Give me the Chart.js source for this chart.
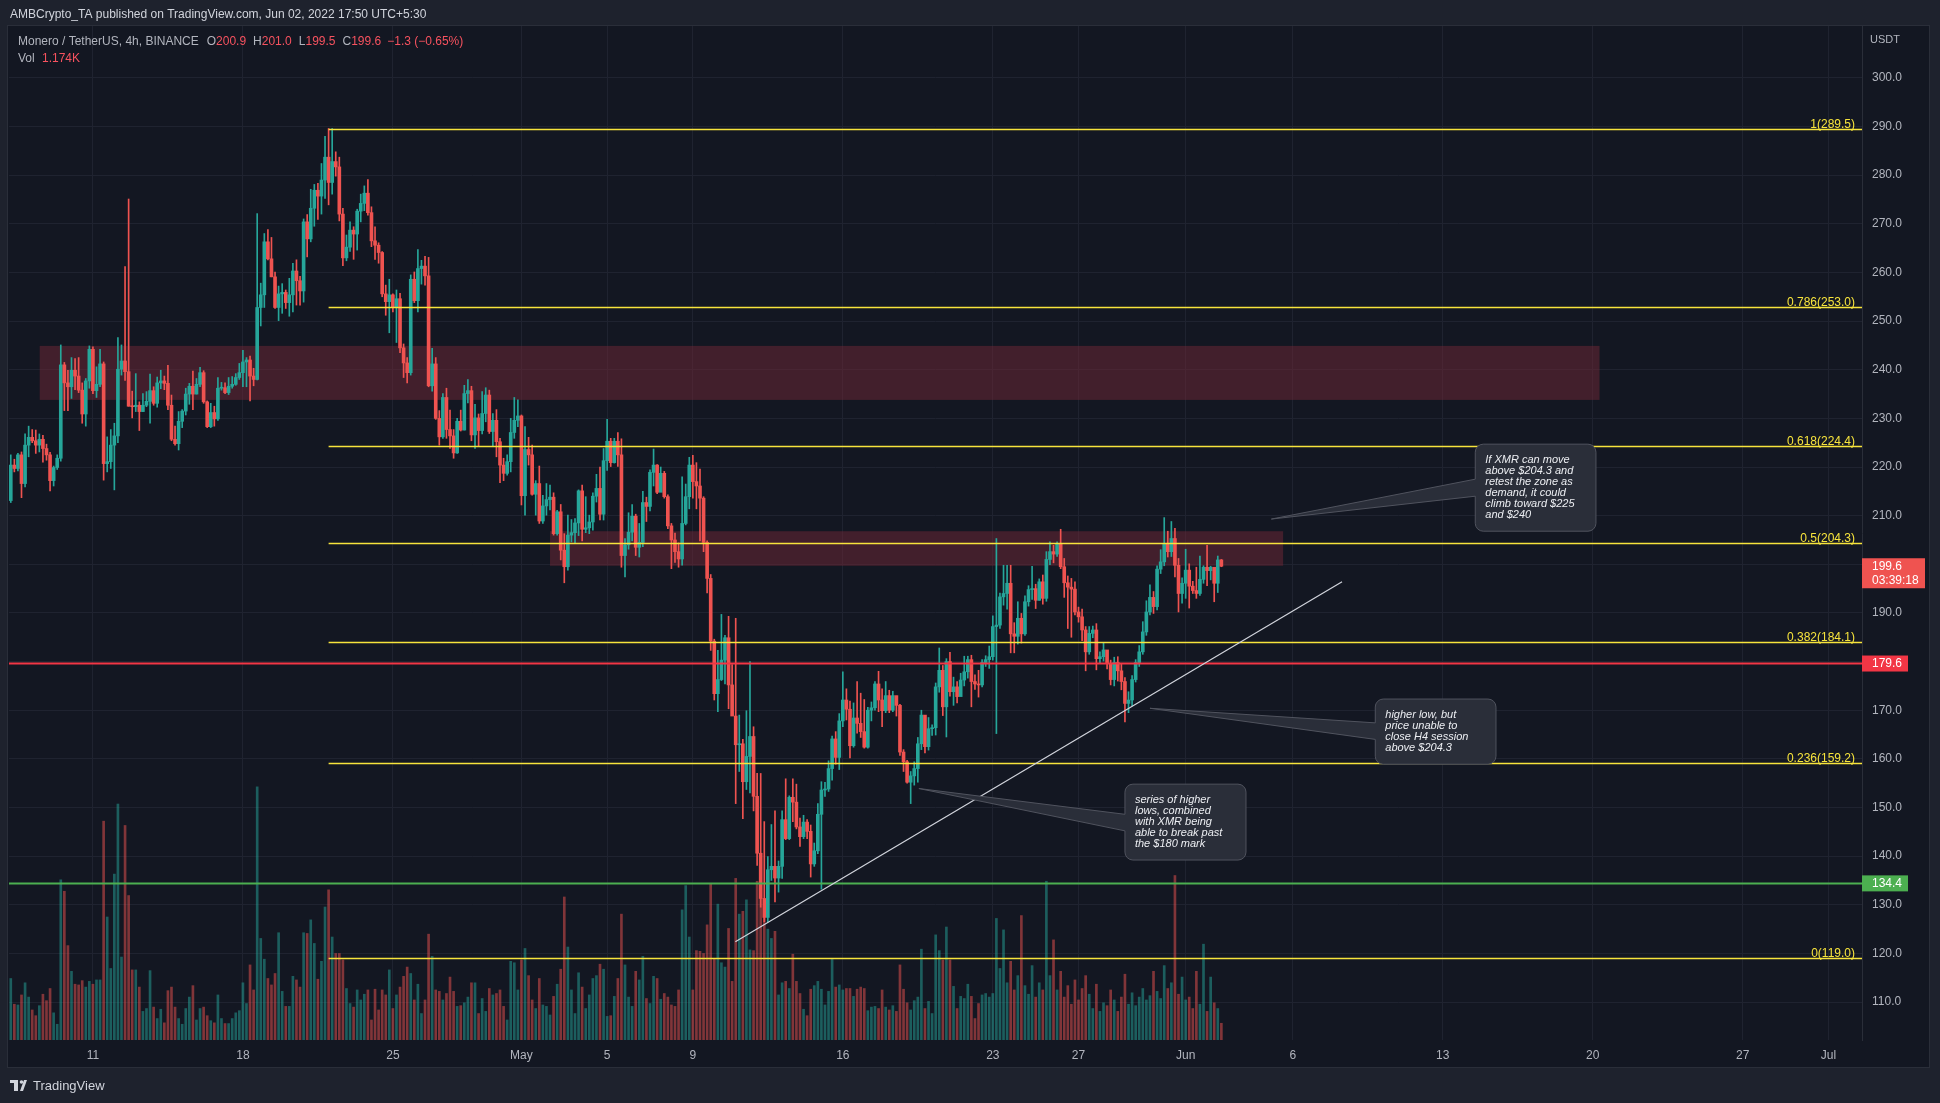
<!DOCTYPE html>
<html>
<head>
<meta charset="utf-8">
<script src="https://cdn.jsdelivr.net/npm/chart.js@4.4.1/dist/chart.umd.min.js"></script>
<style>
  html, body { margin: 0; padding: 0; background: #1e222d; overflow: hidden; }
  #wrap { width: 1940px; height: 1103px; position: relative; }
</style>
</head>
<body>
<div id="wrap"><canvas id="chart"></canvas></div>
<script>
// XMR/USDT 4h candles, Apr 7 - Jun 2 2022
const firstOpen = 213.1;
const closes = [
  220.4,219.7,222.5,216.6,224.5,226.1,225.4,224.5,225.7,223.8,
  222.5,217.2,219.9,221.8,241.0,237.3,236.5,239.9,238.7,235.8,
  230.9,237.7,244.2,235.7,237.0,241.2,220.7,221.1,224.5,226.4,
  240.1,241.8,239.6,232.5,232.4,232.7,231.4,232.7,233.5,235.7,
  233.1,237.3,237.7,237.2,232.7,225.7,224.8,229.4,231.5,235.0,
  236.6,235.0,237.0,239.4,233.4,228.3,231.2,229.9,236.2,236.3,
  235.3,236.6,237.0,238.4,239.4,241.6,242.0,238.7,238.0,252.8,
  255.4,266.3,262.8,259.1,252.8,255.6,255.9,253.8,255.4,260.3,
  258.3,256.2,270.4,266.9,273.2,276.9,275.7,279.0,283.7,278.5,
  282.8,281.7,272.0,263.0,265.2,268.7,267.9,272.6,274.2,276.3,
  272.3,266.5,265.6,264.1,255.6,254.0,255.4,252.8,254.6,244.5,
  241.4,239.4,258.6,254.2,260.8,261.3,259.3,236.7,241.2,230.0,
  226.2,234.3,227.7,226.4,222.9,229.4,227.6,235.1,235.7,226.6,
  230.1,227.5,231.0,234.8,227.3,229.6,225.2,220.4,218.7,221.1,
  227.1,229.6,230.5,214.1,223.6,222.5,214.4,216.6,208.9,212.0,
  213.3,213.8,206.3,210.8,202.9,199.5,206.0,206.5,208.5,215.1,
  207.2,207.5,208.7,214.0,215.6,210.3,221.3,225.3,220.9,225.3,
  222.5,201.8,204.0,206.6,209.9,203.5,204.5,212.7,211.9,218.9,
  220.4,214.8,218.7,213.9,207.9,205.0,202.6,201.1,208.4,213.9,
  220.4,217.0,216.1,213.6,204.5,197.1,184.2,173.4,176.3,180.3,
  184.9,175.2,168.8,162.9,163.1,155.3,160.5,164.6,152.3,140.6,
  131.3,127.4,137.2,137.9,135.5,137.9,147.5,143.6,152.1,151.1,
  146.0,144.0,147.0,145.1,138.4,141.1,148.6,153.6,153.8,158.0,
  164.1,160.3,167.8,172.1,170.2,162.7,168.4,167.3,165.6,162.4,
  170.0,170.5,175.4,172.1,169.9,173.0,170.0,173.0,171.0,161.4,
  159.4,155.2,156.5,158.0,163.1,169.0,162.5,166.2,166.4,174.8,
  178.2,170.7,180.0,173.8,174.8,172.8,176.2,177.9,180.4,175.9,
  175.4,175.2,179.8,180.4,181.0,187.2,187.5,193.3,194.0,196.1,
  185.7,185.2,188.9,185.7,192.3,194.8,195.0,192.6,196.4,193.0,
  201.0,202.6,202.1,204.3,199.5,196.2,195.3,194.9,190.2,189.2,
  186.5,182.0,185.8,186.5,180.6,181.0,182.4,179.6,176.3,179.8,
  178.1,175.9,171.4,172.1,176.3,179.8,182.0,186.1,190.2,193.2,
  191.3,199.0,200.5,204.3,202.6,205.3,199.8,194.0,196.1,198.8,
  195.5,194.6,194.0,196.9,199.4,198.7,199.4,196.1,200.9,199.6
];
const highs = [
  222.5,221.6,222.8,223.1,226.8,228.4,227.7,227.6,226.8,226.5,
  224.7,223.0,220.2,222.5,245.1,241.5,239.9,242.5,242.3,242.5,
  237.3,238.2,244.9,244.7,240.6,244.2,241.6,226.2,227.7,229.0,
  246.6,245.1,261.2,275.1,235.6,239.2,233.4,235.1,235.5,239.1,
  236.5,238.5,239.9,238.7,240.9,234.8,228.4,231.4,231.8,236.2,
  237.2,239.7,238.2,240.5,239.8,233.6,233.1,232.5,238.4,237.4,
  237.3,238.4,238.6,239.2,241.3,244.0,242.5,242.8,240.3,272.1,
  257.8,268.0,268.8,267.2,260.1,257.2,257.7,256.4,258.8,261.9,
  262.6,259.2,271.0,271.9,277.1,278.1,278.3,282.4,288.0,289.6,
  289.6,284.8,283.7,273.2,267.7,270.4,269.4,273.0,276.1,277.8,
  279.1,273.5,269.4,266.1,264.3,257.4,258.6,255.6,256.4,255.7,
  245.3,242.5,259.5,260.1,264.7,262.5,263.3,263.1,244.4,242.5,
  231.6,235.1,236.2,231.7,227.7,230.0,231.7,236.8,238.0,236.6,
  232.9,230.9,235.5,236.3,235.8,231.0,231.8,225.9,221.8,222.5,
  230.0,234.3,233.8,230.7,228.3,226.1,224.5,217.2,220.2,214.2,
  216.6,216.3,214.7,211.1,212.3,206.3,210.1,209.2,209.4,215.3,
  216.3,213.9,210.1,214.7,218.5,220.0,223.8,229.8,225.9,225.9,
  227.1,225.8,205.3,210.6,212.3,210.3,208.4,215.0,213.8,219.4,
  223.7,220.5,220.0,219.1,214.3,208.4,206.4,204.4,218.0,216.5,
  222.0,222.4,220.9,219.6,213.9,204.8,197.9,184.6,182.3,189.7,
  185.4,189.3,179.4,188.9,169.0,164.0,169.9,180.0,166.6,157.0,
  157.0,147.1,139.9,146.5,149.3,139.0,149.3,155.9,152.4,155.9,
  154.8,147.8,148.4,147.5,146.4,142.7,150.8,155.3,155.2,159.6,
  164.7,165.6,169.3,177.9,174.4,171.9,171.5,175.9,173.5,172.2,
  170.6,171.7,175.9,178.0,174.4,175.9,174.1,173.9,172.9,171.2,
  161.9,159.7,157.4,159.4,164.4,170.0,167.3,168.5,167.0,175.6,
  182.8,179.2,180.6,181.9,176.8,175.9,177.6,181.1,181.1,181.3,
  177.3,178.2,180.4,181.2,183.2,189.4,205.3,194.1,199.8,199.8,
  199.8,188.0,192.3,189.9,193.5,195.6,199.6,195.9,197.0,197.8,
  202.6,204.6,203.9,204.6,207.2,201.2,197.6,197.1,196.4,191.2,
  190.8,187.2,187.2,187.3,187.8,182.0,183.9,181.5,180.3,180.9,
  181.0,179.6,176.7,173.8,177.1,180.4,183.3,188.2,192.5,195.8,
  194.4,199.7,203.0,209.6,206.8,208.8,207.4,201.2,197.2,203.1,
  200.1,196.5,199.4,201.7,199.7,203.9,199.6,198.1,201.7,201.0
];
const lows = [
  212.7,219.0,219.2,213.7,215.9,222.1,225.0,222.8,223.1,221.0,
  221.4,215.1,216.1,219.5,221.2,231.6,231.6,234.1,235.9,235.3,
  229.0,228.4,236.2,235.1,234.3,236.5,217.3,219.0,219.7,215.3,
  225.0,238.9,237.8,232.5,230.1,231.4,227.5,231.4,232.4,229.0,
  232.7,232.3,236.1,235.9,231.8,225.4,224.5,223.5,228.1,230.7,
  232.9,231.8,235.0,236.5,233.1,228.1,228.1,228.4,229.6,235.8,
  235.1,234.9,236.2,236.8,238.0,236.5,236.5,233.6,236.7,237.9,
  249.0,252.8,262.6,259.1,252.6,250.1,251.6,252.6,251.0,251.9,
  253.3,253.3,253.9,263.2,266.3,269.5,270.9,272.0,275.2,273.9,
  276.1,279.8,270.6,261.4,262.4,264.3,262.7,264.6,270.4,272.7,
  271.8,265.3,262.7,261.9,255.0,251.2,247.6,251.9,245.6,243.5,
  238.4,237.3,238.9,253.8,251.9,257.6,257.4,236.5,235.6,229.8,
  224.5,225.9,225.9,223.8,221.8,222.8,227.4,227.6,233.2,225.4,
  223.8,224.2,226.8,229.3,226.9,224.3,222.1,216.8,217.2,218.3,
  219.0,225.9,228.3,212.2,210.1,220.4,214.2,210.1,208.4,208.4,
  210.1,211.2,206.0,206.0,200.9,196.2,198.8,204.6,204.3,205.9,
  204.8,206.5,206.3,207.0,212.8,209.1,209.1,219.3,220.1,220.8,
  220.1,199.4,197.4,203.1,204.8,201.8,201.5,203.6,208.8,211.0,
  216.1,214.5,215.4,213.6,207.3,199.1,200.4,199.4,199.8,208.1,
  211.4,213.6,211.4,204.8,202.6,194.1,182.3,172.1,169.7,176.1,
  175.4,170.3,169.0,150.8,157.4,147.7,153.7,153.0,149.3,138.1,
  129.5,126.5,126.5,135.0,130.6,132.6,135.4,143.4,143.4,147.1,
  145.6,142.0,143.6,143.6,135.7,137.9,140.5,133.2,152.3,153.3,
  155.6,158.9,157.8,166.6,168.0,160.2,162.4,165.3,164.4,162.2,
  162.2,167.8,170.0,169.7,166.6,169.5,169.5,169.7,168.8,160.7,
  157.4,155.0,150.8,154.6,155.2,161.9,161.2,161.8,164.8,164.9,
  173.7,168.9,164.5,172.9,171.0,171.5,173.9,175.0,176.6,170.7,
  174.3,172.7,174.8,179.0,178.6,180.3,165.2,186.8,191.6,190.8,
  181.8,181.8,183.6,183.8,185.4,191.4,192.8,190.9,192.6,191.8,
  192.4,199.9,200.3,201.6,199.1,193.2,186.8,185.0,189.6,188.1,
  184.3,178.1,181.5,184.9,178.3,179.6,180.1,178.5,175.2,175.0,
  176.0,174.2,167.6,169.5,170.9,175.8,179.0,181.5,185.4,189.6,
  189.9,190.6,198.1,199.7,201.5,201.6,197.4,190.2,192.0,193.0,
  191.0,194.0,193.0,193.6,196.1,195.6,196.8,192.3,194.2,199.5
];
// volume in K
const volumes = [
  4.3,2.5,2.45,3.15,4.0,3.0,2.1,1.7,2.4,3.2,
  2.75,3.6,1.9,1.1,11.2,10.4,6.6,4.8,3.9,3.85,
  4.15,3.7,4.1,3.9,4.2,4.2,15.3,8.6,5.0,11.6,
  16.5,5.8,15.0,10.1,4.9,4.9,3.7,2.0,2.2,4.85,
  2.3,1.5,2.15,1.2,3.45,3.7,2.3,1.5,1.1,2.2,
  3.0,3.8,1.4,2.2,2.3,1.7,1.35,1.2,3.15,1.5,
  1.15,1.15,1.5,1.9,2.05,4.0,2.55,5.25,3.5,17.7,
  7.1,5.65,4.3,3.85,4.65,7.5,3.4,2.35,2.35,4.45,
  4.2,3.7,7.5,7.45,8.4,6.75,4.25,5.5,9.3,10.5,
  7.2,6.05,6.05,5.6,3.6,2.55,2.3,3.5,2.8,3.2,
  3.5,1.4,3.55,2.1,3.5,3.15,4.9,2.2,3.15,3.7,
  4.45,5.1,4.65,2.8,3.9,1.85,2.8,7.4,5.85,3.5,
  3.4,2.8,3.25,4.4,3.4,2.35,2.4,2.6,3.0,4.0,
  4.0,1.85,2.9,2.0,3.6,3.15,3.25,3.5,2.35,1.4,
  5.5,5.4,3.5,5.6,6.4,4.5,2.8,2.2,4.3,2.45,
  2.35,1.75,3.05,3.9,4.95,10.0,6.5,3.5,1.85,4.7,
  3.7,2.2,3.15,4.3,4.5,5.3,4.95,1.65,1.7,3.05,
  4.3,8.8,5.25,3.0,2.35,4.8,4.2,5.85,2.9,2.55,
  4.45,4.3,2.85,3.25,3.0,2.45,2.35,3.5,9.1,10.8,
  7.2,3.5,6.25,6.2,6.05,8.05,10.9,5.65,9.5,5.4,
  5.1,7.8,4.1,11.3,8.8,9.0,9.8,6.3,6.25,11.1,
  10.0,8.6,7.75,7.1,7.6,3.15,4.0,4.1,3.6,6.0,
  4.1,3.25,2.15,1.7,3.55,3.8,4.1,3.55,2.45,3.4,
  5.65,3.7,3.85,3.5,3.6,3.6,3.05,3.55,3.7,3.6,
  2.05,2.3,2.35,2.2,3.5,2.3,2.1,2.4,2.0,5.25,
  3.55,2.6,2.1,2.75,3.0,6.35,2.2,2.7,1.85,7.35,
  6.25,5.6,7.9,5.6,3.75,2.2,3.05,2.9,3.9,3.05,
  1.5,2.55,3.15,3.25,3.0,3.25,8.5,5.0,7.7,4.0,
  5.5,3.5,4.5,8.7,3.8,3.2,5.2,3.0,4.0,3.5,
  11.1,4.5,7.0,3.5,4.8,3.0,3.8,2.5,4.2,2.8,
  3.6,4.5,3.2,2.2,3.9,2.0,2.6,2.4,3.5,2.8,
  2.0,3.0,4.6,2.5,3.3,2.4,3.0,3.6,2.8,3.1,
  4.8,3.4,2.9,5.2,3.6,4.0,11.5,3.2,4.4,2.8,
  3.0,2.2,4.8,2.5,6.7,2.0,4.4,2.6,2.2,1.17
];

// time axis: position in 4h bars from Apr 7 00:00
const timeTicks = [24, 66, 108, 144, 168, 192, 234, 276, 300, 330, 360, 402, 444, 486, 510];
const timeLabels = ['11', '18', '25', 'May', '5', '9', '16', '23', '27', 'Jun', '6', '13', '20', '27', 'Jul'];
const priceTicks = [110, 120, 130, 140, 150, 160, 170, 180, 190, 200, 210, 220, 230, 240, 250, 260, 270, 280, 290, 300];

const fibLevels = ['1', '0.786', '0.618', '0.5', '0.382', '0.236', '0'];
const fibPrices = [289.5, 253.0, 224.4, 204.3, 184.1, 159.2, 119.0];
const fibStart = 90;

// supply / demand boxes: [fromBar, toBar, low, high]
const zones = [[9.1, 445.9, 233.8, 244.9], [152.0, 357.3, 199.7, 206.8]];
// trendline [bar, price] -> [bar, price]
const trendLine = [[203.9, 122.4], [373.8, 196.4]];

const callouts = [
  { tip: [354.0, 209.3], box: [411.1, 444.9, 224.7, 206.8], base: [217.5, 214.0],
    lines: ['If XMR can move', 'above $204.3 and', 'retest the zone as', 'demand, it could', 'climb toward $225', 'and $240'] },
  { tip: [320.0, 170.4], box: [383.1, 416.9, 172.3, 158.9], base: [167.4, 164.0],
    lines: ['higher low, but', 'price unable to', 'close H4 session', 'above $204.3'] },
  { tip: [255.3, 153.9], box: [313.0, 346.9, 154.8, 139.2], base: [148.6, 145.2],
    lines: ['series of higher', 'lows, combined', 'with XMR being', 'able to break past', 'the $180 mark'] }
];

const UP = '#26a69a', DOWN = '#ef5350';
const FONT = '"Liberation Sans", Arial, sans-serif';
const GRID = '#1f2330';
const YELLOW = '#f7e43c';

const opens = closes.map((c, i) => i === 0 ? firstOpen : closes[i - 1]);
const isUp = closes.map((c, i) => c >= opens[i]);

const overlay = {
  id: 'overlay',
  beforeDraw(chart) {
    const {ctx, chartArea: a} = chart;
    ctx.save();
    ctx.fillStyle = '#1e222d';
    ctx.fillRect(0, 0, chart.width, chart.height);
    ctx.fillStyle = '#131722';
    ctx.fillRect(a.left - 1, a.top, a.right - a.left + 68, a.bottom - a.top + 27);
    ctx.strokeStyle = '#2a2e39';
    ctx.lineWidth = 1;
    ctx.strokeRect(a.left - 1.5, a.top - 0.5, a.right - a.left + 69, a.bottom - a.top + 28);
    ctx.restore();
  },
  beforeDatasetsDraw(chart) {
    const {ctx, scales: {x, y}} = chart;
    ctx.save();
    ctx.fillStyle = 'rgba(120, 40, 55, 0.47)';
    zones.forEach(z => {
      const x0 = x.getPixelForValue(z[0]), x1 = x.getPixelForValue(z[1]);
      const y0 = y.getPixelForValue(z[3]), y1 = y.getPixelForValue(z[2]);
      ctx.fillRect(x0, y0, x1 - x0, y1 - y0);
    });
    ctx.restore();
  },
  afterDatasetsDraw(chart) {
    const {ctx, chartArea: a, scales: {x, y}} = chart;
    ctx.save();

    // fib retracement
    ctx.lineWidth = 1.5;
    ctx.strokeStyle = YELLOW;
    ctx.fillStyle = YELLOW;
    ctx.font = '12px ' + FONT;
    ctx.textAlign = 'right';
    ctx.textBaseline = 'alphabetic';
    const fx = x.getPixelForValue(fibStart);
    fibPrices.forEach((p, i) => {
      const py = Math.round(y.getPixelForValue(p)) + 0.5;
      ctx.beginPath();
      ctx.moveTo(fx, py);
      ctx.lineTo(a.right, py);
      ctx.stroke();
      ctx.fillText(fibLevels[i] + '(' + p.toFixed(1) + ')', a.right - 7, py - 2);
    });

    // horizontal levels
    const hline = (p, col) => {
      const py = y.getPixelForValue(p);
      ctx.strokeStyle = col;
      ctx.lineWidth = 2;
      ctx.beginPath();
      ctx.moveTo(a.left, py);
      ctx.lineTo(a.right, py);
      ctx.stroke();
    };
    hline(179.6, '#f23645');
    hline(134.4, '#4caf50');

    // trendline
    ctx.strokeStyle = '#d1d4dc';
    ctx.lineWidth = 1.2;
    ctx.beginPath();
    ctx.moveTo(x.getPixelForValue(trendLine[0][0]), y.getPixelForValue(trendLine[0][1]));
    ctx.lineTo(x.getPixelForValue(trendLine[1][0]), y.getPixelForValue(trendLine[1][1]));
    ctx.stroke();

    // callouts
    callouts.forEach(c => {
      const tx = x.getPixelForValue(c.tip[0]), ty = y.getPixelForValue(c.tip[1]);
      const l = x.getPixelForValue(c.box[0]), r = x.getPixelForValue(c.box[1]);
      const t = y.getPixelForValue(c.box[2]), b = y.getPixelForValue(c.box[3]);
      const b1 = y.getPixelForValue(c.base[0]), b2 = y.getPixelForValue(c.base[1]);
      const rad = 8;
      ctx.beginPath();
      ctx.moveTo(l + rad, t);
      ctx.lineTo(r - rad, t);
      ctx.arcTo(r, t, r, t + rad, rad);
      ctx.lineTo(r, b - rad);
      ctx.arcTo(r, b, r - rad, b, rad);
      ctx.lineTo(l + rad, b);
      ctx.arcTo(l, b, l, b - rad, rad);
      ctx.lineTo(l, b2);
      ctx.lineTo(tx, ty);
      ctx.lineTo(l, b1);
      ctx.lineTo(l, t + rad);
      ctx.arcTo(l, t, l + rad, t, rad);
      ctx.closePath();
      ctx.fillStyle = '#2a2e39';
      ctx.fill();
      ctx.strokeStyle = '#50535e';
      ctx.lineWidth = 1;
      ctx.stroke();
      ctx.fillStyle = '#eceef2';
      ctx.font = 'italic 11px ' + FONT;
      ctx.textAlign = 'left';
      ctx.textBaseline = 'middle';
      c.lines.forEach((s, i) => ctx.fillText(s, l + 10, t + 15.5 + i * 11));
    });

    // price axis labels
    const tag = (p, col, w, lines) => {
      const py = y.getPixelForValue(p);
      ctx.fillStyle = col;
      ctx.fillRect(a.right, py - 8, w, lines === 2 ? 30 : 16);
      ctx.fillStyle = '#ffffff';
      ctx.font = '12px ' + FONT;
      ctx.textAlign = 'left';
      ctx.textBaseline = 'middle';
      ctx.fillText(p.toFixed(1), a.right + 10, py);
      if (lines === 2) ctx.fillText('03:39:18', a.right + 10, py + 14);
    };
    tag(199.6, '#ef5350', 63, 2);
    tag(179.6, '#f23645', 46, 1);
    tag(134.4, '#4caf50', 46, 1);

    ctx.fillStyle = '#b2b5be';
    ctx.font = '11px ' + FONT;
    ctx.textAlign = 'left';
    ctx.textBaseline = 'middle';
    ctx.fillText('USDT', a.right + 8, 40);

    // header + legend
    ctx.font = '12px ' + FONT;
    ctx.fillStyle = '#d1d4dc';
    ctx.fillText('AMBCrypto_TA published on TradingView.com, Jun 02, 2022 17:50 UTC+5:30', 10, 15);

    const RED = '#f7525f', GREY = '#b2b5be';
    const parts = [['Monero / TetherUS, 4h, BINANCE', GREY, 8], ['O', GREY, 0], ['200.9', RED, 7],
      ['H', GREY, 0], ['201.0', RED, 7], ['L', GREY, 0], ['199.5', RED, 7], ['C', GREY, 0],
      ['199.6', RED, 6], ['\u22121.3 (\u22120.65%)', RED, 0]];
    let px = 18;
    parts.forEach(([s, col, gap]) => {
      ctx.fillStyle = col;
      ctx.fillText(s, px, 42);
      px += ctx.measureText(s).width + gap;
    });
    ctx.fillStyle = GREY;
    ctx.fillText('Vol', 18, 59);
    ctx.fillStyle = RED;
    ctx.fillText('1.174K', 42, 59);

    // TradingView mark
    ctx.fillStyle = '#d1d4dc';
    ctx.fillRect(10, 1080, 8, 3);
    ctx.fillRect(14, 1080, 4, 11);
    ctx.beginPath();
    ctx.arc(21.5, 1082, 1.8, 0, Math.PI * 2);
    ctx.fill();
    ctx.beginPath();
    ctx.moveTo(24, 1080); ctx.lineTo(27, 1080); ctx.lineTo(23, 1091); ctx.lineTo(20, 1091);
    ctx.closePath();
    ctx.fill();
    ctx.font = '13px ' + FONT;
    ctx.fillText('TradingView', 33, 1086);

    ctx.restore();
  }
};

new Chart(document.getElementById('chart'), {
  type: 'bar',
  data: {
    datasets: [
      {
        label: 'body',
        data: closes.map((c, i) => ({x: i + 1, y: [opens[i], c]})),
        backgroundColor: isUp.map(u => u ? UP : DOWN),
        barThickness: 3,
        minBarLength: 1,
        grouped: false,
        order: 0,
        yAxisID: 'y'
      },
      {
        label: 'wick',
        data: closes.map((c, i) => ({x: i + 1, y: [lows[i], highs[i]]})),
        backgroundColor: isUp.map(u => u ? UP : DOWN),
        barThickness: 1,
        minBarLength: 1,
        grouped: false,
        order: 1,
        yAxisID: 'y'
      },
      {
        label: 'volume',
        data: volumes.map((v, i) => ({x: i + 1, y: v})),
        backgroundColor: isUp.map(u => u ? 'rgba(38,166,154,0.5)' : 'rgba(239,83,80,0.5)'),
        barThickness: 2,
        grouped: false,
        order: 2,
        yAxisID: 'yv'
      }
    ]
  },
  options: {
    responsive: true,
    maintainAspectRatio: false,
    animation: false,
    events: [],
    layout: {padding: {left: 9, top: 26, right: 0, bottom: 0}},
    plugins: {legend: {display: false}, tooltip: {enabled: false}},
    scales: {
      x: {
        type: 'linear',
        min: 0.5,
        max: 519.4,
        offset: false,
        afterBuildTicks: s => { s.ticks = timeTicks.map(v => ({value: v})); },
        afterFit: s => { s.height = 63; },
        ticks: {
          autoSkip: false, maxRotation: 0, padding: 8, color: '#b2b5be',
          font: {family: FONT, size: 12},
          callback: (v, i) => timeLabels[i]
        },
        grid: {color: GRID, drawTicks: false, offset: false},
        border: {display: false}
      },
      y: {
        position: 'right',
        min: 102.2,
        max: 310.67,
        afterBuildTicks: s => { s.ticks = priceTicks.map(v => ({value: v})); },
        afterFit: s => { s.width = 78; },
        ticks: {
          padding: 10, color: '#b2b5be', font: {family: FONT, size: 12},
          callback: v => v.toFixed(1)
        },
        grid: {color: GRID, drawTicks: false},
        border: {display: true, color: '#2a2e39'}
      },
      yv: {display: false, min: 0, max: 70.9}
    }
  },
  plugins: [overlay]
});
</script>
</body>
</html>
